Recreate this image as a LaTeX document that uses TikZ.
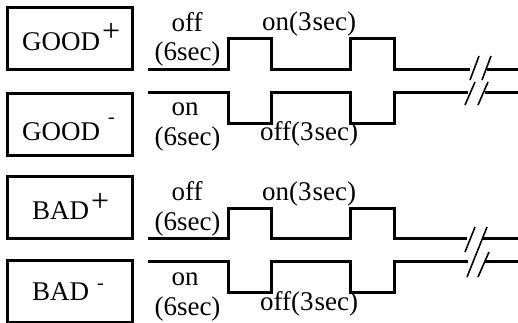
\documentclass[tikz,border=0pt]{standalone}
\usepackage{fontspec}
\setmainfont{Liberation Serif}
\begin{document}
\begin{tikzpicture}[x=1pt,y=-1pt,
  sig/.style={line width=3pt},
  brk/.style={line width=1.6pt},
  boxst/.style={draw, line width=3pt, outer sep=0pt, inner sep=0pt, minimum width=125pt, minimum height=62pt, anchor=north west},
  lbl/.style={font=\fontsize{27}{27}\selectfont, inner sep=0pt, anchor=base},
  boxtext/.style={font=\fontsize{27}{27}\selectfont, inner sep=0pt, anchor=base west}]
\useasboundingbox (0,0) rectangle (518,322);
% boxes
\node[boxst] (goodp) at (7.5,7.5) {};
\node[boxst] (goodm) at (7.5,93) {};
\node[boxst] (badp) at (7.5,176.5) {};
\node[boxst] (badm) at (7.5,260.7) {};
\node[boxtext] (tgoodp) at (22,50) {GOOD\kern2pt{\fontsize{32}{32}\selectfont\raisebox{9pt}{+}}};
\node[boxtext] (tgoodm) at (22,140) {GOOD\kern8pt{\fontsize{20}{20}\selectfont\raisebox{17pt}{-}}};
\node[boxtext] (tbadp) at (32,219) {BAD\kern2pt{\fontsize{32}{32}\selectfont\raisebox{8pt}{+}}};
\node[boxtext] (tbadm) at (32,300) {BAD\kern8pt{\fontsize{20}{20}\selectfont\raisebox{11pt}{-}}};
% GOOD+ signal
\draw[sig] (148,69) -- (228,69) -- (228,38.7) -- (271.3,38.7) -- (271.3,69) -- (350,69) -- (350,38.7) -- (394.7,38.7) -- (394.7,69) -- (470,69);
\draw[sig] (487,69) -- (518,69);
\draw[brk] (470,80) -- (479,56) (482,80) -- (491,56);
% GOOD- signal
\draw[sig] (148,92.7) -- (228,92.7) -- (228,123) -- (271.3,123) -- (271.3,92.7) -- (350,92.7) -- (350,123) -- (394.7,123) -- (394.7,92.7) -- (468,92.7);
\draw[sig] (485,92.7) -- (518,92.7);
\draw[brk] (465,105) -- (475,82) (478,105) -- (488,82);
% BAD+ signal
\draw[sig] (148,238) -- (228,238) -- (228,208) -- (271.3,208) -- (271.3,238) -- (350,238) -- (350,208) -- (394.7,208) -- (394.7,238) -- (467,238);
\draw[sig] (483,238) -- (518,238);
\draw[brk] (465,252) -- (475,227) (477,252) -- (487,227);
% BAD- signal
\draw[sig] (148,261.3) -- (228,261.3) -- (228,292) -- (271.3,292) -- (271.3,261.3) -- (350,261.3) -- (350,292) -- (394.7,292) -- (394.7,261.3) -- (468,261.3);
\draw[sig] (485,261.3) -- (518,261.3);
\draw[brk] (467,277) -- (477,252) (478,277) -- (489,252);
% labels GOOD
\node[lbl] (l1) at (187,31) {off};
\node[lbl] (l2) at (187.5,60) {(6sec)};
\node[lbl, anchor=base west] (l3) at (262,30) {on(3\kern1pt sec)};
\node[lbl] (l4) at (185,115) {on};
\node[lbl] (l5) at (187.5,145) {(6sec)};
\node[lbl, anchor=base west] (l6) at (260,140) {off(3\kern1pt sec)};
% labels BAD
\node[lbl] (l7) at (187,200) {off};
\node[lbl] (l8) at (187.5,230) {(6sec)};
\node[lbl, anchor=base west] (l9) at (262,200) {on(3\kern1pt sec)};
\node[lbl] (l10) at (185,285) {on};
\node[lbl] (l11) at (187.5,315) {(6sec)};
\node[lbl, anchor=base west] (l12) at (260,310) {off(3\kern1pt sec)};
\end{tikzpicture}
\end{document}
